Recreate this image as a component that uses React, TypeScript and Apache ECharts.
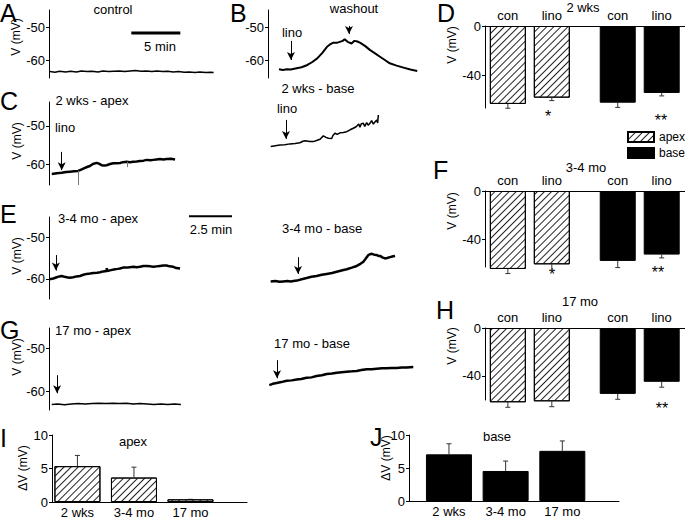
import { useEffect, useRef } from "react";
import * as echarts from "echarts";

const FONT = "'Liberation Sans', Arial, Helvetica, sans-serif";
type P = [number, number];

// ---------- membrane potential traces: [time (min), V (mV)] ----------
const traceControl: P[] = [
  [0.1, -63.5], [0.6, -63.7], [1.1, -63.4], [1.7, -63.6], [2.2, -63.4], [2.8, -63.6], [3.3, -63.3],
  [3.9, -63.5], [4.4, -63.4], [5.0, -63.6], [5.5, -63.3], [6.1, -63.5], [6.6, -63.4], [7.2, -63.3],
  [7.7, -63.5], [8.3, -63.3], [8.8, -63.2], [9.4, -63.4], [9.9, -63.3], [10.5, -63.5], [11.0, -63.3],
  [11.6, -63.5], [12.1, -63.4], [12.7, -63.6], [13.2, -63.5], [13.8, -63.7], [14.3, -63.6], [14.9, -63.8],
  [15.4, -63.6], [16.0, -63.8], [16.5, -63.7], [16.8, -63.8],
];
const traceWashout: P[] = [
  [0, -62.8], [0.4, -63.0], [0.8, -62.8], [1.2, -62.9], [1.8, -62.5], [2.3, -62.2], [2.9, -61.5],
  [3.4, -60.6], [3.9, -59.5], [4.4, -57.9], [4.9, -56.0], [5.2, -55.3], [5.5, -54.8], [5.9, -54.8],
  [6.2, -54.5], [6.5, -54.2], [6.7, -53.7], [7.0, -54.5], [7.4, -55.0], [7.7, -54.2], [8.0, -54.4],
  [8.3, -54.8], [8.8, -55.8], [9.3, -57.0], [9.8, -58.0], [10.3, -59.0], [10.8, -60.0], [11.3, -61.0],
  [12.0, -61.7], [12.7, -62.3], [13.4, -62.9], [14.1, -63.3],
];
const trace2wkApex: P[] = [
  [0.16, -62.6], [0.45, -62.4], [0.74, -62.3], [1.0, -62.1], [1.22, -62.0], [1.45, -61.9], [1.7, -61.8],
  [1.9, -61.4], [2.09, -61.0], [2.25, -60.7], [2.38, -60.5], [2.55, -60.0],
  [2.77, -59.7], [2.9, -59.9], [3.06, -60.3], [3.2, -60.4], [3.35, -60.3], [3.55, -60.0], [3.74, -59.8],
  [3.95, -59.8], [4.13, -59.7], [4.3, -59.5], [4.52, -59.4], [4.7, -59.5],
  [4.9, -59.4], [5.1, -59.3], [5.29, -59.2], [5.5, -59.1], [5.68, -58.9], [5.9, -59.0], [6.06, -58.9],
  [6.25, -58.8], [6.45, -58.7], [6.65, -58.8], [6.84, -58.7], [7.1, -58.6], [7.33, -58.8],
];
// brief recording artefacts in the 2 wks apex trace: [time, from mV, to mV]
const artefacts2wkApex = [[1.72, -61.8, -65.5], [4.53, -59.4, -60.8]];
const trace2wkBase: P[] = [
  [0.33, -55.4], [0.6, -55.2], [0.87, -55.0], [1.15, -54.9], [1.45, -54.7], [1.75, -54.6], [2.03, -54.4],
  [2.2, -54.0], [2.33, -53.9], [2.6, -54.1], [2.81, -54.1], [3.0, -53.8], [3.2, -53.5], [3.39, -52.6],
  [3.55, -53.0], [3.68, -53.2], [3.88, -53.3], [3.95, -52.5], [4.07, -51.9], [4.2, -52.2], [4.36, -51.8],
  [4.55, -51.7], [4.75, -51.5], [4.95, -51.0], [5.13, -50.6], [5.3, -50.2], [5.45, -49.5], [5.52, -50.3],
  [5.6, -49.4], [5.72, -49.3], [5.8, -50.1], [5.91, -49.1], [6.0, -49.8], [6.1, -49.3], [6.2, -48.6],
  [6.3, -49.5], [6.4, -48.9], [6.5, -48.4], [6.55, -49.2], [6.59, -47.1],
];
const trace34Apex: P[] = [
  [0.02, -60.1], [0.25, -59.9], [0.45, -59.6], [0.6, -59.4], [0.74, -59.3], [0.9, -59.5], [1.03, -59.6],
  [1.2, -59.7], [1.41, -59.6], [1.6, -59.4], [1.8, -59.3], [2.0, -59.0], [2.19, -58.8], [2.4, -58.7],
  [2.58, -58.6], [2.8, -58.5], [2.97, -58.4], [3.15, -58.2], [3.35, -58.1], [3.36, -57.4], [3.38, -58.1],
  [3.6, -57.9], [3.84, -57.7], [4.0, -57.6], [4.13, -57.5], [4.3, -57.3], [4.52, -57.3], [4.7, -57.2],
  [4.9, -57.1], [5.1, -57.2], [5.29, -57.1], [5.5, -56.9], [5.68, -56.9], [5.9, -57.0], [6.06, -57.1],
  [6.25, -57.0], [6.45, -56.9], [6.65, -56.8], [6.84, -56.8], [7.0, -57.0], [7.23, -57.1], [7.4, -57.4],
  [7.62, -57.5],
];
const trace34Base: P[] = [
  [0.33, -60.6], [0.6, -60.5], [0.85, -60.7], [1.06, -60.6], [1.3, -60.5], [1.5, -60.6], [1.65, -60.5],
  [1.85, -60.4], [2.03, -60.2], [2.2, -60.0], [2.42, -59.8], [2.7, -59.5], [3.0, -59.3], [3.3, -59.0],
  [3.59, -58.8], [3.9, -58.6], [4.17, -58.3], [4.45, -58.0], [4.75, -57.7], [5.05, -57.3], [5.33, -56.9],
  [5.55, -56.4], [5.72, -55.9], [5.85, -55.2], [6.01, -54.3], [6.1, -54.1], [6.21, -54.0], [6.35, -54.2],
  [6.5, -54.3], [6.6, -54.5], [6.69, -54.5], [6.85, -54.9], [6.98, -55.1], [7.1, -55.0], [7.27, -54.8],
  [7.45, -54.6], [7.56, -54.5],
];
const trace17Apex: P[] = [
  [0.16, -63.1], [0.5, -63.0], [0.9, -63.2], [1.3, -63.0], [1.7, -62.9], [2.1, -63.0], [2.5, -62.9],
  [2.9, -62.8], [3.3, -62.9], [3.7, -62.8], [4.1, -62.9], [4.5, -62.8], [4.9, -63.0], [5.3, -62.9],
  [5.7, -63.0], [6.1, -63.1], [6.5, -63.0], [6.9, -63.1], [7.3, -63.0], [7.67, -63.1],
];
const trace17Base: P[] = [
  [0.25, -58.6], [0.45, -58.3], [0.68, -58.1], [0.95, -57.9], [1.26, -57.6], [1.55, -57.5], [1.84, -57.3],
  [2.1, -57.2], [2.42, -56.9], [2.7, -56.8], [3.0, -56.5], [3.3, -56.3], [3.59, -56.0], [3.9, -55.9],
  [4.17, -55.7], [4.45, -55.6], [4.75, -55.5], [5.05, -55.4], [5.33, -55.3], [5.6, -55.1], [5.91, -54.9],
  [6.2, -54.9], [6.49, -54.8], [6.8, -54.7], [7.07, -54.7], [7.35, -54.6], [7.66, -54.6], [7.95, -54.5],
  [8.24, -54.5], [8.62, -54.4],
];

// arrows: [time (min), from mV, to mV]
const arrowsWashout = [[1.22, -54.2, -60.0], [7.14, -49.7, -52.1]];
const arrows2wkApex = [[0.74, -56.8, -61.6]];
const arrows2wkBase = [[1.22, -48.4, -53.4]];
const arrows34Apex = [[0.4, -54.3, -58.0]];
const arrows34Base = [[1.92, -54.8, -58.8]];
const arrows17Apex = [[0.47, -56.3, -60.5]];
const arrows17Base = [[0.7, -52.8, -57.0]];

// scale bars: [start (min), end (min), level (mV)]
const scaleBar5min = [8.4, 13.4, -51.8];
const scaleBar25min = [8.14, 10.64, -45.0];

const traceTicks = [-50, -60];

// ---------- resting potential bars ----------
const condLabels = ["con", "lino", "con", "lino"];
const condSlots = [1, 2, 3.5, 4.5];
const apexSlots = [1, 2];
const baseSlots = [3.5, 4.5];
const apex2wk = [-63.2, -58.1];
const apex2wkErr = [3.5, 2.4];
const base2wk = [-62.2, -54.3];
const base2wkErr = [3.8, 2.4];
const apex34 = [-64.1, -60.3];
const apex34Err = [3.8, 4.9];
const base34 = [-57.5, -52.3];
const base34Err = [5.5, 2.7];
const apex17 = [-62.1, -61.3];
const apex17Err = [4.2, 4.5];
const base17 = [-55.1, -45.0];
const base17Err = [4.5, 4.5];
const barTicks = [0, -40];

// ---------- depolarisation bars ----------
const ageLabels = ["2 wks", "3-4 mo", "17 mo"];
const ageSlots = [1, 2, 3];
const dvApex = [5.35, 3.65, 0.4];
const dvApexErr = [1.6, 1.55, 0];
const dvBase = [7.07, 4.55, 7.6];
const dvBaseErr = [1.6, 1.5, 1.5];

const hatch = {
  symbol: "rect",
  symbolSize: 1,
  dashArrayX: [1, 0],
  dashArrayY: [1, 4],
  rotation: -Math.PI / 4,
  color: "#222",
};

const grids = [
  { left: 49, top: 10, width: 172, height: 68 }, // A
  { left: 268, top: 10, width: 160, height: 68 }, // B
  { left: 49, top: 102, width: 140, height: 83 }, // C apex
  { left: 265, top: 102, width: 140, height: 83 }, // C base
  { left: 49, top: 217, width: 200, height: 82 }, // E apex
  { left: 265, top: 217, width: 140, height: 82 }, // E base
  { left: 49, top: 328, width: 140, height: 82 }, // G apex
  { left: 265, top: 328, width: 160, height: 82 }, // G base
  { left: 485, top: 26, width: 200, height: 82 }, // D
  { left: 485, top: 191, width: 200, height: 76 }, // F
  { left: 485, top: 328, width: 200, height: 72 }, // H
  { left: 52, top: 435, width: 195, height: 67 }, // I
  { left: 409, top: 435, width: 210, height: 66 }, // J
];

const lbl = { color: "#000", fontSize: 13, fontFamily: FONT };
const axLine = { show: true, onZero: false, lineStyle: { color: "#000", width: 1 } };

function traceAxes(g: number, xr: number[], yr: number[], showY: boolean) {
  return {
    x: { type: "value", gridIndex: g, min: xr[0], max: xr[1], show: false },
    y: {
      type: "value", gridIndex: g, min: yr[0], max: yr[1], show: showY,
      axisLine: axLine,
      axisTick: { show: true, length: 3, customValues: traceTicks, lineStyle: { color: "#000" } },
      axisLabel: { ...lbl, margin: 4, customValues: traceTicks },
      splitLine: { show: false },
    },
  };
}

function condAxes(g: number, ymin: number) {
  return {
    x: {
      type: "value", gridIndex: g, min: 0.48, max: 5.03, position: "top",
      axisLine: axLine, axisTick: { show: false }, splitLine: { show: false },
      axisLabel: {
        ...lbl, margin: 4, customValues: condSlots,
        formatter: (v: number) => condLabels[condSlots.indexOf(v)] ?? "",
      },
    },
    y: {
      type: "value", gridIndex: g, min: ymin, max: 0,
      axisLine: axLine,
      axisTick: { show: true, length: 3, customValues: barTicks, lineStyle: { color: "#000" } },
      axisLabel: { ...lbl, margin: 4, customValues: barTicks },
      splitLine: { show: false },
    },
  };
}

function ageAxes(g: number, xr: number[]) {
  return {
    x: {
      type: "value", gridIndex: g, min: xr[0], max: xr[1],
      axisLine: axLine, axisTick: { show: false }, splitLine: { show: false },
      axisLabel: {
        ...lbl, margin: 4, lineHeight: 13, customValues: ageSlots,
        formatter: (v: number) => ageLabels[ageSlots.indexOf(v)] ?? "",
      },
    },
    y: {
      type: "value", gridIndex: g, min: 0, max: 10, interval: 5,
      axisLine: axLine,
      axisTick: { show: true, length: 3, lineStyle: { color: "#000" } },
      axisLabel: { ...lbl, margin: 4 },
      splitLine: { show: false },
    },
  };
}

function traceSeries(g: number, data: P[], arrows: number[][], width = 2) {
  return {
    type: "line", xAxisIndex: g, yAxisIndex: g, data, symbol: "none", silent: true,
    lineStyle: { color: "#000", width },
    markLine: {
      silent: true, symbol: ["none", "arrow"], symbolSize: [6, 8], animation: false,
      lineStyle: { color: "#000", width: 1, type: "solid" }, label: { show: false },
      data: arrows.map((a) => [{ coord: [a[0], a[1]] }, { coord: [a[0], a[2]] }]),
    },
  };
}

function spikeSeries(g: number, spikes: number[][]) {
  return {
    type: "line", xAxisIndex: g, yAxisIndex: g, data: [], symbol: "none", silent: true,
    markLine: {
      silent: true, symbol: ["none", "none"], animation: false,
      lineStyle: { color: "#777", width: 1, type: "solid" }, label: { show: false },
      data: spikes.map((a) => [{ coord: [a[0], a[1]] }, { coord: [a[0], a[2]] }]),
    },
  };
}

function scaleSeries(g: number, bar: number[], width: number) {
  return {
    type: "line", xAxisIndex: g, yAxisIndex: g, symbol: "none", silent: true, clip: false,
    data: [[bar[0], bar[2]], [bar[1], bar[2]]],
    lineStyle: { color: "#000", width },
  };
}

const errorRender = (_params: any, api: any) => {
  const x = api.value(0);
  const p1 = api.coord([x, api.value(1)]);
  const p2 = api.coord([x, api.value(2)]);
  return {
    type: "group",
    children: [
      { type: "line", shape: { x1: p1[0], y1: p1[1], x2: p2[0], y2: p2[1] }, style: { stroke: "#333", lineWidth: 1 } },
      { type: "line", shape: { x1: p2[0] - 2.5, y1: p2[1], x2: p2[0] + 2.5, y2: p2[1] }, style: { stroke: "#333", lineWidth: 1 } },
    ],
  };
};

function errSeries(g: number, slots: number[], vals: number[], errs: number[], dir: number) {
  return {
    type: "custom", xAxisIndex: g, yAxisIndex: g, silent: true, renderItem: errorRender,
    data: vals.map((v, i) => [slots[i], v, v + dir * errs[i]]),
    z: 1,
  };
}

function condBars(g: number, apex: number[], apexErr: number[], base: number[], baseErr: number[]) {
  return [
    {
      type: "bar", name: "apex", xAxisIndex: g, yAxisIndex: g, barWidth: 36, barGap: "-100%", clip: false,
      data: apex.map((v, i) => [apexSlots[i], v]), silent: true, z: 3,
      itemStyle: { color: "#fff", borderColor: "#000", borderWidth: 1, decal: hatch },
    },
    {
      type: "bar", name: "base", xAxisIndex: g, yAxisIndex: g, barWidth: 36, barGap: "-100%", clip: false,
      data: base.map((v, i) => [baseSlots[i], v]), silent: true, z: 3,
      itemStyle: { color: "#000", borderColor: "#000", borderWidth: 1 },
    },
    errSeries(g, apexSlots, apex, apexErr, -1),
    errSeries(g, baseSlots, base, baseErr, -1),
  ];
}

function txt(text: string, x: number, y: number, size = 13, align = "center", rotation = 0) {
  return {
    type: "text", x, y, rotation, silent: true,
    style: {
      text, fill: "#000", fontSize: size, fontFamily: FONT,
      textAlign: align, align, textVerticalAlign: "middle", verticalAlign: "middle",
    },
  };
}

export default function App() {
  const ref = useRef<HTMLDivElement>(null);
  useEffect(() => {
    if (!ref.current) return;
    const chart = echarts.init(ref.current, undefined, { renderer: "svg" });

    const axes = [
      traceAxes(0, [0, 17.55], [-65.45, -44.85], true),
      traceAxes(1, [-1.12, 15.2], [-65.45, -44.85], true),
      traceAxes(2, [0, 8.14], [-65.5, -43.7], true),
      traceAxes(3, [0, 8.14], [-65.5, -43.7], false),
      traceAxes(4, [0, 11.63], [-64.8, -45.2], true),
      traceAxes(5, [0, 8.14], [-64.8, -45.2], false),
      traceAxes(6, [0, 8.14], [-64.4, -45.3], true),
      traceAxes(7, [0, 9.3], [-64.4, -45.3], false),
      condAxes(8, -66.5),
      condAxes(9, -62.5),
      condAxes(10, -60.2),
      ageAxes(11, [0.55, 4.0]),
      ageAxes(12, [0.295, 4.0]),
    ];

    const series: any[] = [
      traceSeries(0, traceControl, [], 1.5),
      traceSeries(1, traceWashout, arrowsWashout),
      spikeSeries(2, artefacts2wkApex),
      traceSeries(2, trace2wkApex, arrows2wkApex, 2.5),
      traceSeries(3, trace2wkBase, arrows2wkBase, 1.5),
      traceSeries(4, trace34Apex, arrows34Apex, 2.5),
      traceSeries(5, trace34Base, arrows34Base, 2.5),
      traceSeries(6, trace17Apex, arrows17Apex, 1.5),
      traceSeries(7, trace17Base, arrows17Base, 2.5),
      scaleSeries(0, scaleBar5min, 3),
      scaleSeries(4, scaleBar25min, 2),
      ...condBars(8, apex2wk, apex2wkErr, base2wk, base2wkErr),
      ...condBars(9, apex34, apex34Err, base34, base34Err),
      ...condBars(10, apex17, apex17Err, base17, base17Err),
      {
        type: "bar", name: "apex", xAxisIndex: 11, yAxisIndex: 11, barWidth: 46, silent: true, z: 3,
        data: dvApex.map((v, i) => [ageSlots[i], v]),
        itemStyle: { color: "#fff", borderColor: "#000", borderWidth: 1, decal: hatch },
      },
      errSeries(11, ageSlots, dvApex, dvApexErr, 1),
      {
        type: "bar", name: "base", xAxisIndex: 12, yAxisIndex: 12, barWidth: 46, silent: true, z: 3,
        data: dvBase.map((v, i) => [ageSlots[i], v]),
        itemStyle: { color: "#000", borderColor: "#000", borderWidth: 1 },
      },
      errSeries(12, ageSlots, dvBase, dvBaseErr, 1),
    ];

    const graphics = [
      // panel letters
      txt("A", 0, 12.5, 25, "left"),
      txt("B", 230, 12.5, 25, "left"),
      txt("C", 0, 101, 25, "left"),
      txt("D", 437, 12.5, 25, "left"),
      txt("E", 0, 214, 25, "left"),
      txt("F", 433, 170, 25, "left"),
      txt("G", 0, 330, 25, "left"),
      txt("H", 436, 310, 25, "left"),
      txt("I", 0, 438, 25, "left"),
      txt("J", 370, 437, 25, "left"),
      // trace annotations
      txt("control", 113, 9),
      txt("5 min", 160, 46),
      txt("washout", 354, 8),
      txt("lino", 292, 32),
      txt("2 wks - base", 318, 88),
      txt("2 wks - apex", 92, 100),
      txt("lino", 65, 127),
      txt("lino", 287, 108),
      txt("3-4 mo - apex", 98, 218),
      txt("2.5 min", 211, 229),
      txt("3-4 mo - base", 322, 228),
      txt("17 mo - apex", 93, 330),
      txt("17 mo - base", 312, 343),
      // bar panel titles
      txt("2 wks", 583, 7),
      txt("3-4 mo", 586, 167),
      txt("17 mo", 580, 301),
      txt("apex", 133, 441),
      txt("base", 497, 436),
      // significance
      txt("*", 548, 116, 16),
      txt("**", 661, 120, 16),
      txt("*", 552, 274, 16),
      txt("**", 658, 272, 16),
      txt("**", 662, 408, 16),
      // axis titles
      txt("V (mV)", 16, 37, 12, "center", Math.PI / 2),
      txt("V (mV)", 17, 141, 12, "center", Math.PI / 2),
      txt("V (mV)", 17, 256, 12, "center", Math.PI / 2),
      txt("V (mV)", 17, 357, 12, "center", Math.PI / 2),
      txt("V (mV)", 452, 45, 12, "center", Math.PI / 2),
      txt("V (mV)", 452, 211, 12, "center", Math.PI / 2),
      txt("V (mV)", 452, 346, 12, "center", Math.PI / 2),
      txt("ΔV (mV)", 23, 468, 12, "center", Math.PI / 2),
      txt("ΔV (mV)", 386, 458, 12, "center", Math.PI / 2),
    ];

    chart.setOption({
      animation: false,
      backgroundColor: "#fff",
      textStyle: { fontFamily: FONT },
      grid: grids.map((g) => ({ ...g, containLabel: false, outerBoundsMode: "none" })),
      xAxis: axes.map((a) => a.x),
      yAxis: axes.map((a) => a.y),
      legend: {
        data: ["apex", "base"], left: 627, top: 131, orient: "vertical", icon: "rect", padding: 0,
        itemWidth: 26, itemHeight: 10, itemGap: 4, selectedMode: false,
        textStyle: { color: "#000", fontSize: 12, fontFamily: FONT },
      },
      series,
      graphic: graphics,
    });
    return () => chart.dispose();
  }, []);
  return (
    <div
      ref={ref}
      style={{ position: "fixed", left: 0, top: 0, width: 685, height: 519, background: "#fff" }}
    />
  );
}
